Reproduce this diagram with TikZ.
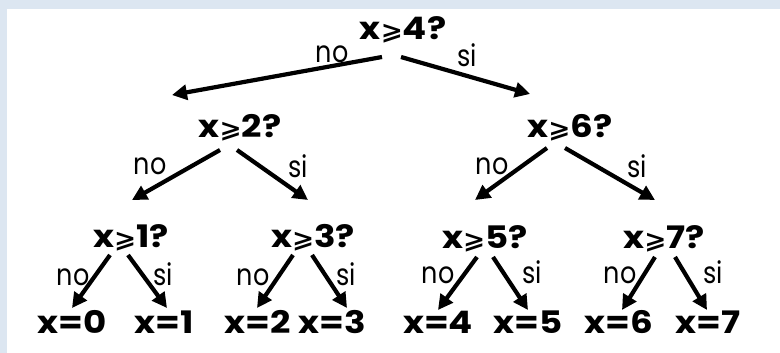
\documentclass[tikz,border=0pt]{standalone}
\usepackage{fontspec}
\setmainfont{Poppins}[FakeStretch=1.15]
\newfontfamily\relfont{DejaVu Sans}[FakeStretch=1.1]
\newfontfamily\lblfont{Poppins}[FakeStretch=0.85]
\usetikzlibrary{arrows.meta}
\definecolor{framebg}{RGB}{220,230,241}
\newcommand{\sgeq}{{\relfont\fontsize{24}{24}\selectfont ⩾}}
\tikzset{
  qnode/.style={font=\bfseries\fontsize{31}{34}\selectfont,inner sep=0pt,
    anchor=base},
  leaf/.style={qnode},
  lbl/.style={font=\lblfont\fontsize{30}{32}\selectfont,inner sep=0pt,
    anchor=base},
  arr/.style={-{Triangle[length=15pt,width=15pt]},line width=4.2pt},
}

\begin{document}
\begin{tikzpicture}[x=1pt,y=-1pt]
  \useasboundingbox (0,0) rectangle (780,353);
  % frame
  \fill[framebg] (0,0) rectangle (780,9);
  \fill[framebg] (0,0) rectangle (7,353);

  % questions
  \node[qnode] (r) at (403,40)  {x\sgeq4?};
  \node[qnode] (a) at (240,137) {x\sgeq2?};
  \node[qnode] (b) at (570,137) {x\sgeq6?};
  \node[qnode] (c) at (131,247) {x\sgeq1?};
  \node[qnode] (d) at (313,247) {x\sgeq3?};
  \node[qnode] (e) at (485,248) {x\sgeq5?};
  \node[qnode] (f) at (664,248) {x\sgeq7?};

  % answers
  \foreach \n/\x in {0/72,1/164,2/258,3/332,4/438,5/528,6/619,7/708}
    \node[leaf] (x\n) at (\x,333) {x=\n};

  \foreach \p/\ps/\c/\cs in {
    r/{-21,17}/a/{-68,-42},
    r/{-2,17}/b/{-40,-43},
    a/{-20,13}/c/{1,-47},
    a/{-3,13}/d/{-5,-47},
    b/{-23,11}/e/{-10,-48},
    b/{-5,11}/f/{-9,-48},
    c/{-21,8}/x0/{0,-25},
    c/{-3,8}/x1/{3,-25},
    d/{-20,8}/x2/{-1,-25},
    d/{-1,8}/x3/{15,-25},
    e/{-8,9}/x4/{0,-23},
    e/{8,9}/x5/{0,-23},
    f/{-9,9}/x6/{3,-23},
    f/{11,9}/x7/{-1,-23}}{
    \draw[arr] ([shift={(\ps)}]\p.base) -- ([shift={(\cs)}]\c.base);
  }

  % no / si
  \foreach \n/\t/\x/\y in {
    l1/no/332/63, l2/si/467/67,
    l3/no/150/175, l4/si/298/177, l5/no/492/174, l6/si/637/177,
    l7/no/73/285, l8/si/163/285, l9/no/253/285, l10/si/346/285,
    l11/no/438/283, l12/si/532/283, l13/no/620/283, l14/si/713/283}
    \node[lbl] (\n) at (\x,\y) {\t};
\end{tikzpicture}
\end{document}
